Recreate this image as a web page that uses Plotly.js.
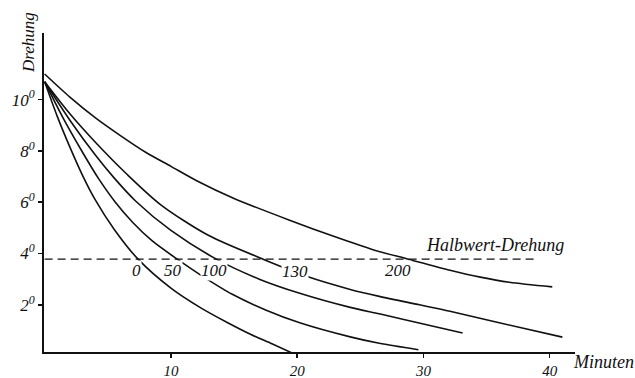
<!DOCTYPE html>
<html>
<head>
<meta charset="utf-8">
<script src="https://cdn.plot.ly/plotly-3.0.1.min.js"></script>
<style>html,body{margin:0;padding:0;background:#fff;}#chart{width:635px;height:378px;}</style>
</head>
<body>
<div id="chart"></div>
<script>
// Curve labels (parameter written on each curve)
const curveLabels = ['0', '50', '100', '130', '200'];

// Minutes / rotation (degrees)
const t0 = [0, 1, 2, 3, 4, 5.5, 7.4, 10, 12.3, 14.5, 16.3, 18, 19.6];
const v0 = [10.7, 9.35, 8.15, 7.05, 6.1, 4.95, 3.78, 2.65, 1.9, 1.3, 0.85, 0.48, 0.12];

const t50 = [0, 1.5, 3, 4.3, 5.6, 7, 8.5, 10.5, 12.3, 14.9, 17.5, 20.2, 24.2, 26.5, 29.6];
const v50 = [10.7, 9.25, 7.95, 6.9, 6.0, 5.2, 4.5, 3.78, 3.18, 2.4, 1.8, 1.3, 0.75, 0.5, 0.25];

const t100 = [0, 2, 4, 5.5, 7.2, 10, 13.6, 17, 20.2, 24.2, 26.5, 28.7, 33.1];
const v100 = [10.7, 9.2, 7.85, 6.95, 6.05, 4.9, 3.78, 3.0, 2.45, 1.9, 1.65, 1.4, 0.9];

const t130 = [0, 2, 4, 6.5, 9.2, 13, 17.3, 20.8, 24.2, 26.5, 29.7, 32.1, 36, 41];
const v130 = [10.7, 9.45, 8.35, 7.1, 5.9, 4.7, 3.78, 3.1, 2.6, 2.33, 2.0, 1.75, 1.3, 0.74];

const t200 = [0, 2, 4, 6, 8, 10, 12, 15, 19.4, 23, 26, 28.8, 32.1, 34.5, 36.8, 40.2];
const v200 = [11.0, 10.1, 9.3, 8.6, 7.95, 7.4, 6.85, 6.15, 5.3, 4.65, 4.15, 3.78, 3.35, 3.08, 2.88, 2.7];

// Half-value rotation (dashed line)
const halbT = [0, 39];
const halbV = [3.78, 3.78];

// Axis ticks
const xTicks = [10, 20, 30, 40];
const xTickText = ['10', '20', '30', '40'];
const yTicks = [2, 4, 6, 8, 10];
const yTickText = ['2<sup>0</sup>', '4<sup>0</sup>', '6<sup>0</sup>', '8<sup>0</sup>', '10<sup>0</sup>'];

// Label positions under the half-value line (minutes, degrees)
const labelT = [7.3, 10.2, 13.4, 19.8, 28.0];
const labelV = [3.32, 3.32, 3.32, 3.28, 3.32];

const FONT = 'Liberation Serif, DejaVu Serif, serif';
const lineStyle = {color: '#111', width: 1.6, shape: 'spline', smoothing: 0.8};

const series = [[t0, v0], [t50, v50], [t100, v100], [t130, v130], [t200, v200]];
const traces = series.map((s, i) => ({
  x: s[0], y: s[1], type: 'scatter', mode: 'lines',
  name: curveLabels[i], line: lineStyle, hoverinfo: 'skip'
}));
traces.push({
  x: halbT, y: halbV, type: 'scatter', mode: 'lines', name: 'Halbwert-Drehung',
  line: {color: '#111', width: 1.3, dash: '8px,5px'}, hoverinfo: 'skip'
});

const W = 635, H = 378, L = 44, R = 60, T = 33, B = 26;
const px = x => (x - L) / (W - L - R);
const py = y => 1 - (y - T) / (H - T - B);

const annotations = curveLabels.map((lab, i) => ({
  x: labelT[i], y: labelV[i], xref: 'x', yref: 'y', text: '<i>' + lab + '</i>',
  xanchor: 'center', yanchor: 'middle',
  showarrow: false, font: {family: FONT, size: 17, color: '#111'},
  bgcolor: 'white', borderpad: 0
}));
annotations.push(
  {x: px(495), y: py(245), xref: 'paper', yref: 'paper', text: '<i>Halbwert-Drehung</i>',
   xanchor: 'center', yanchor: 'middle', showarrow: false,
   font: {family: FONT, size: 18, color: '#111'}},
  {x: px(603), y: py(362), xref: 'paper', yref: 'paper', text: '<i>Minuten</i>',
   xanchor: 'center', yanchor: 'middle', showarrow: false,
   font: {family: FONT, size: 18, color: '#111'}},
  {x: px(29), y: py(43), xref: 'paper', yref: 'paper', text: '<i>Drehung</i>', textangle: -90,
   xanchor: 'center', yanchor: 'middle', showarrow: false,
   font: {family: FONT, size: 17, color: '#111'}}
);

const layout = {
  width: W, height: H,
  margin: {l: L, r: R, t: T, b: B, pad: 0},
  paper_bgcolor: 'white', plot_bgcolor: 'white',
  showlegend: false,
  font: {family: FONT, size: 16, color: '#111'},
  xaxis: {
    range: [-0.05, 42.0], showgrid: false, zeroline: false,
    showline: true, linecolor: '#111', linewidth: 2,
    tickmode: 'array', tickvals: xTicks, ticktext: xTickText.map(s => '<i>' + s + '</i>'),
    ticks: 'outside', ticklen: 4, tickwidth: 1.5, tickcolor: '#111',
    tickfont: {family: FONT, size: 15, color: '#111'}
  },
  yaxis: {
    range: [0.16, 12.6], showgrid: false, zeroline: false,
    showline: true, linecolor: '#111', linewidth: 2,
    tickmode: 'array', tickvals: yTicks, ticktext: yTickText.map(s => '<i>' + s + '</i>'),
    ticks: 'outside', ticklen: 4, tickwidth: 1.5, tickcolor: '#111',
    tickfont: {family: FONT, size: 17, color: '#111'}
  },
  annotations: annotations
};

Plotly.newPlot('chart', traces, layout, {staticPlot: true, displayModeBar: false});
</script>
</body>
</html>
